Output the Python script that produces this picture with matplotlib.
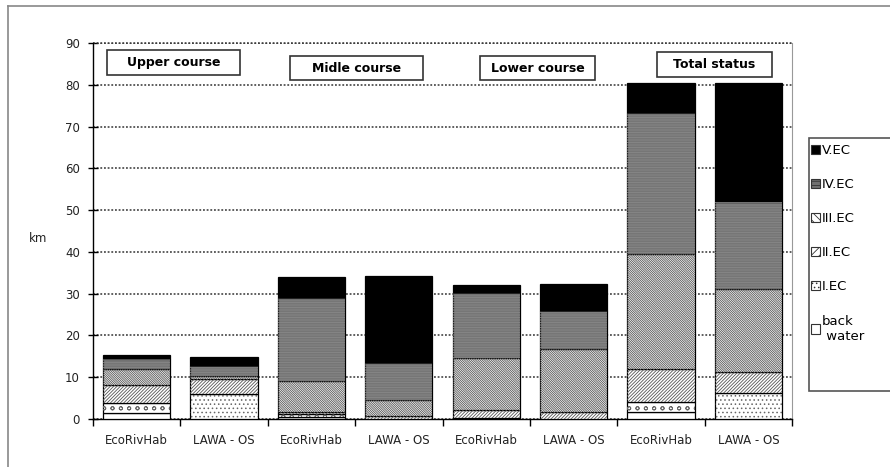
import matplotlib
matplotlib.use('Agg')
import matplotlib.pyplot as plt
from matplotlib.patches import Rectangle, Patch
from matplotlib.lines import Line2D
import numpy as np

# --- DATA (km per ecological class) ---
methods = ['EcoRivHab', 'LAWA - OS', 'EcoRivHab', 'LAWA - OS',
           'EcoRivHab', 'LAWA - OS', 'EcoRivHab', 'LAWA - OS']
courses = ['Upper course', 'Midle course', 'Lower course', 'Total status']
back_water = [1.4, 0.0, 0.5, 0.0, 0.3, 0.0, 1.75, 0.0]
ec1 = [2.4, 5.9, 0.7, 0.0, 0.0, 0.0, 2.4, 6.15]
ec2 = [4.3, 3.6, 0.4, 0.8, 1.85, 1.75, 7.75, 5.15]
ec3 = [3.8, 0.8, 7.6, 3.75, 12.55, 14.95, 27.6, 19.7]
ec4 = [2.5, 2.4, 19.7, 8.75, 15.4, 9.1, 33.7, 20.9]
ec5 = [0.9, 2.1, 5.2, 21.0, 2.0, 6.5, 7.2, 28.5]
class_labels = ['back\n water', 'I.EC', 'II.EC', 'III.EC', 'IV.EC', 'V.EC']

series = [back_water, ec1, ec2, ec3, ec4, ec5]
# fill colour, hatch, hatch colour
styles = [
    ('white', None, 'black'),
    ('white', '.' * 4, '#666666'),
    ('white', '/' * 10, '#555555'),
    ('white', '\\' * 15, '#555555'),
    ('#707070', '-' * 10, '#888888'),
    ('black', None, 'black'),
]

plt.rcParams['hatch.linewidth'] = 0.6
plt.rcParams['font.family'] = ['DejaVu Sans']

fig = plt.figure(figsize=(8.9, 4.67), dpi=100)
ax = fig.add_axes([93 / 890, 1 - 419 / 467, 699 / 890, 376 / 467])

x = np.arange(len(methods))
width = 0.77
bottom = np.zeros(len(methods))
for vals, (fc, hatch, hc) in zip(series, styles):
    vals = np.array(vals)
    ax.bar(x, vals, width, bottom=bottom, color=fc, edgecolor='black',
           linewidth=0.9, zorder=3)
    if hatch:
        # EcoRivHab class I drawn as small circles, LAWA as dots
        for i in range(len(x)):
            h = hatch
            if hatch.startswith('.') and methods[i] == 'EcoRivHab':
                h = 'oo'
            ax.bar(x[i], vals[i], width, bottom=bottom[i], color='none',
                   edgecolor=hc, hatch=h, linewidth=0, zorder=3.5)
    bottom += vals

ax.set_xlim(-0.5, len(methods) - 0.5)
ax.set_ylim(0, 90)
ax.set_yticks(range(0, 91, 10))
ax.yaxis.grid(True, linestyle=(0, (1.2, 1.2)), color='#333333', linewidth=1.1, zorder=0)
ax.axhline(90, linestyle=(0, (1.2, 1.2)), color='#333333', linewidth=1.1, clip_on=False)
ax.set_axisbelow(True)

ax.set_xticks(x)
ax.set_xticklabels(methods, fontsize=8.5, color='#222222')
ax.tick_params(axis='x', which='major', length=0, pad=11)
ax.set_xticks(np.arange(-0.5, len(methods)), minor=True)
ax.tick_params(axis='x', which='minor', length=5, direction='out', width=1)
ax.tick_params(axis='y', length=7, direction='inout', width=1, labelsize=8.5,
               labelcolor='#222222', pad=6)

ax.spines['top'].set_visible(False)
ax.spines['right'].set_color('#999999')
ax.spines['left'].set_linewidth(1)
ax.spines['bottom'].set_linewidth(1)

fig.text(38 / 890, 1 - 239 / 467, 'km', fontsize=8.5, color='#222222',
         ha='center', va='center')

# course label boxes (pixel layout)
boxes = [(107, 50, 133, 25), (290, 56, 133, 24), (480, 56, 115, 24), (657, 52, 115, 25)]
for name, (bx, by, bw, bh) in zip(courses, boxes):
    fig.patches.append(Rectangle((bx / 890, 1 - (by + bh) / 467), bw / 890, bh / 467,
                                 transform=fig.transFigure, facecolor='white',
                                 edgecolor='#333333', linewidth=1.2, zorder=5))
    fig.text((bx + bw / 2) / 890, 1 - (by + bh / 2) / 467, name, fontsize=9,
             fontweight='bold', ha='center', va='center', zorder=6)

# legend
fig.patches.append(Rectangle((809 / 890, 1 - 391 / 467), 100 / 890, 253 / 467,
                             transform=fig.transFigure, facecolor='white',
                             edgecolor='#555555', linewidth=1.2, zorder=1))
handles = []
for fc, hatch, hc in styles[::-1]:
    handles.append(Patch(facecolor=fc, edgecolor='#333333',
                         hatch=hatch[:4] if hatch else None, linewidth=0.8))
fig.legend(handles, class_labels[::-1], loc='upper left',
           bbox_to_anchor=(811 / 890, 1 - 144 / 467), frameon=False, fontsize=9.5,
           handlelength=0.7, handleheight=0.7, handletextpad=0.15, labelspacing=1.6,
           borderpad=0, borderaxespad=0)

# outer frame
fig.add_artist(Line2D([8 / 890, 8 / 890], [0, 1 - 6 / 467], transform=fig.transFigure,
                      color='#888888', linewidth=1.2))
fig.add_artist(Line2D([8 / 890, 1], [1 - 6 / 467, 1 - 6 / 467], transform=fig.transFigure,
                      color='#888888', linewidth=1.2))

fig.savefig('out.png', dpi=100)
